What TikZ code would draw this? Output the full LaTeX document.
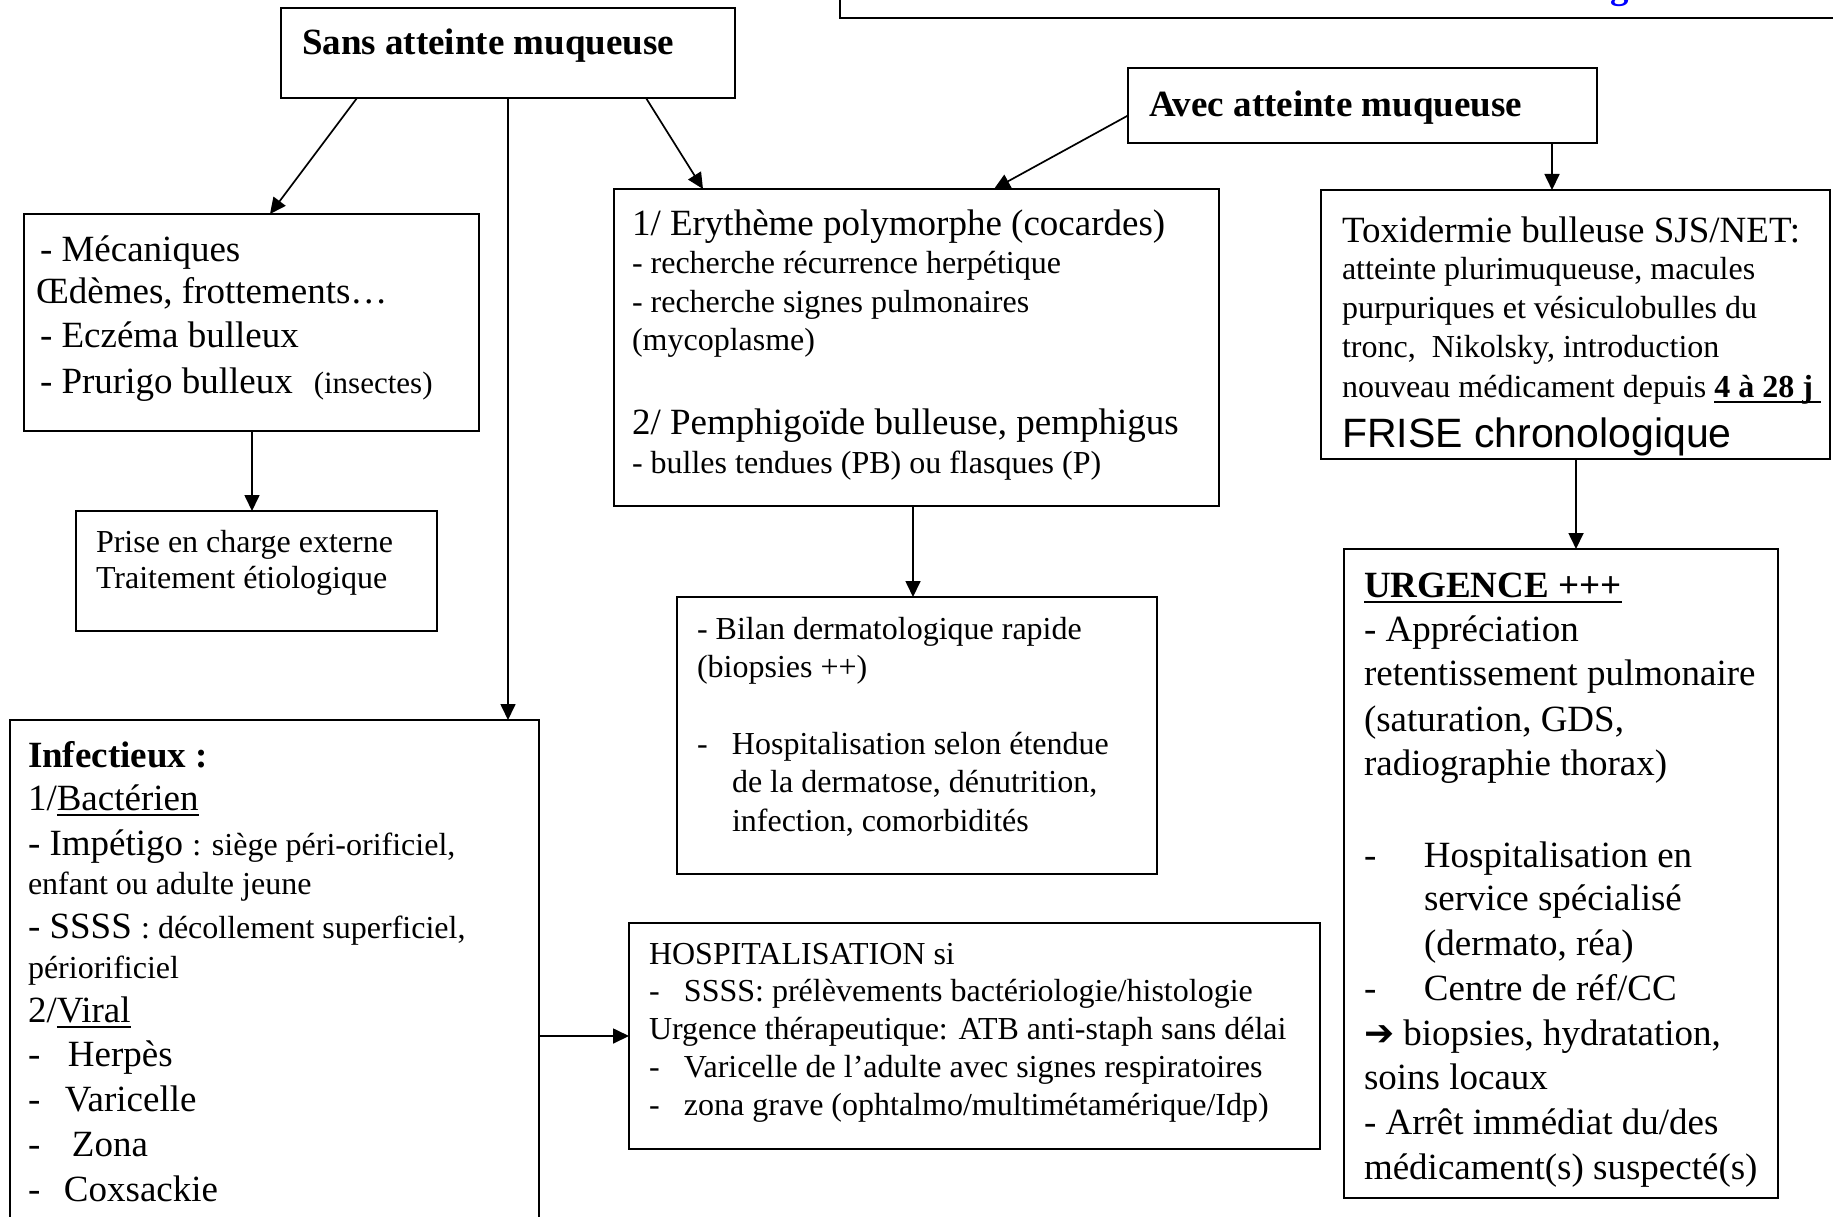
\documentclass[tikz,border=0pt]{standalone}
\usepackage{fontspec}
\setmainfont{Liberation Serif}
\newfontfamily\arialf{Liberation Sans}
\newfontfamily\dejavuf{DejaVu Sans}
\usetikzlibrary{arrows.meta}
\newcommand\fL{\fontsize{37}{44}\selectfont}
\newcommand\fM{\fontsize{32}{37}\selectfont}
\newcommand\fS{\fontsize{31}{36}\selectfont}
\newcommand\myul[1]{\begingroup\setbox0=\hbox{#1}\rlap{\copy0}\rule[-6pt]{\wd0}{2pt}\endgroup}
\begin{document}
\begin{tikzpicture}[x=1pt,y=-1pt,
  box/.style={draw=black, line width=1.8pt, rectangle, anchor=north west, inner sep=0pt, outer sep=0pt},
  tl/.style={anchor=base west, inner sep=0pt, outer sep=0pt},
  arr/.style={line width=1.7pt, -{Triangle[length=16pt,width=15pt]}},
  ln/.style={line width=1.7pt}]
\useasboundingbox (0,0) rectangle (1833,1217);
\clip (0,0) rectangle (1833,1217);

% ---------- boxes ----------
\node[box, line width=2.6pt, minimum width=1040pt, minimum height=70pt] (banner) at (840,-52) {};
\node[box, minimum width=454pt, minimum height=90pt]  (sans)  at (281,8) {};
\node[box, minimum width=469pt, minimum height=75pt]  (avec)  at (1128,68) {};
\node[box, minimum width=455pt, minimum height=217pt] (meca)  at (24,214) {};
\node[box, minimum width=361pt, minimum height=120pt] (prise) at (76,511) {};
\node[box, minimum width=605pt, minimum height=317pt] (ery)   at (614,189) {};
\node[box, minimum width=509pt, minimum height=269pt] (toxi)  at (1321,190) {};
\node[box, minimum width=480pt, minimum height=277pt] (bilan) at (677,597) {};
\node[box, minimum width=434pt, minimum height=649pt] (urg)   at (1344,549) {};
\node[box, minimum width=529pt, minimum height=560pt] (inf)   at (10,720) {};
\node[box, minimum width=691pt, minimum height=226pt] (hosp)  at (629,923) {};

% ---------- connectors ----------
\draw[arr] ([xshift=76pt]sans.south west) -- ([xshift=246pt]meca.north west);
\draw[arr] ([xshift=227pt]sans.south west) -- ([xshift=498pt]inf.north west);
\draw[arr] ([xshift=365pt]sans.south west) -- ([xshift=89pt]ery.north west);
\draw[arr] ([yshift=-10pt]avec.west) -- ([xshift=380pt]ery.north west);
\draw[arr] ([xshift=424pt]avec.south west) -- ([xshift=231pt]toxi.north west);
\draw[arr] ([xshift=228pt]meca.south west) -- ([xshift=176pt]prise.north west);
\draw[arr] ([xshift=299pt]ery.south west) -- ([xshift=236pt]bilan.north west);
\draw[arr] ([xshift=255pt]toxi.south west) -- ([xshift=232pt]urg.north west);
\draw[arr] ([yshift=-316pt]inf.north east) -- ([yshift=-113pt]hosp.north west);

% ---------- texts ----------
\node[anchor=base, inner sep=0pt, text={rgb,255:red,0;green,0;blue,255}] (gblue) at (1620,-1) {\fL\bfseries g};

\node[tl] (ts) at (302,55) {\fL\bfseries Sans atteinte muqueuse};
\node[tl] (ta) at (1149,117) {\fL\bfseries Avec atteinte muqueuse};

\node[tl] (m1) at (40,261) {\fL - Mécaniques};
\node[tl] (m2) at (36,303) {\fL Œdèmes, frottements…};
\node[tl] (m3) at (40,347) {\fL - Eczéma bulleux};
\node[tl] (m4) at (40,393) {\fL - Prurigo bulleux\hspace{21pt}{\fS(insectes)}};

\node[tl] (p1) at (96,552) {\fM Prise en charge externe};
\node[tl] (p2) at (96,588) {\fM Traitement étiologique};

\node[tl] (e1) at (632,236) {\fL 1/ Erythème polymorphe (cocardes)};
\node[tl] (e2) at (632,273) {\fM - recherche récurrence herpétique};
\node[tl] (e3) at (632,312) {\fM - recherche signes pulmonaires};
\node[tl] (e4) at (632,350) {\fM (mycoplasme)};
\node[tl] (e5) at (632,434) {\fL 2/ Pemphigoïde bulleuse, pemphigus};
\node[tl] (e6) at (632,473) {\fM - bulles tendues (PB) ou flasques (P)};

\node[tl] (x1) at (1342,242) {\fL Toxidermie bulleuse SJS/NET:};
\node[tl] (x2) at (1342,279) {\fM atteinte plurimuqueuse, macules};
\node[tl] (x3) at (1342,318) {\fM purpuriques et vésiculobulles du};
\node[tl] (x4) at (1342,357) {\fM tronc,\ \ Nikolsky, introduction};
\node[tl] (x5) at (1342,397) {\fM nouveau médicament depuis \myul{\textbf{4 à 28 j\ }}};
\node[tl] (x6) at (1342,447) {\arialf\fontsize{41}{47}\selectfont FRISE chronologique};

\node[tl] (b1) at (697,639) {\fM - Bilan dermatologique rapide};
\node[tl] (b2) at (697,677) {\fM (biopsies ++)};
\node[tl] (b3) at (697,754) {\fM\makebox[35pt][l]{-}Hospitalisation selon étendue};
\node[tl] (b4) at (732,792) {\fM de la dermatose, dénutrition,};
\node[tl] (b5) at (732,831) {\fM infection, comorbidités};

\node[tl] (u1) at (1364,597) {\fL\myul{\textbf{URGENCE +++}}};
\node[tl] (u2) at (1364,641) {\fL - Appréciation};
\node[tl] (u3) at (1364,685) {\fL retentissement pulmonaire};
\node[tl] (u4) at (1364,731) {\fL (saturation, GDS,};
\node[tl] (u5) at (1364,775) {\fL radiographie thorax)};
\node[tl] (u6) at (1364,867) {\fL\makebox[60pt][l]{-}Hospitalisation en};
\node[tl] (u7) at (1424,910) {\fL service spécialisé};
\node[tl] (u8) at (1424,955) {\fL (dermato, réa)};
\node[tl] (u9) at (1364,1000) {\fL\makebox[60pt][l]{-}Centre de réf/CC};
\node[tl] (u10) at (1364,1045) {\fL{\dejavuf\bfseries\fontsize{36}{40}\selectfont ➔} biopsies, hydratation,};
\node[tl] (u11) at (1364,1089) {\fL soins locaux};
\node[tl] (u12) at (1364,1134) {\fL - Arrêt immédiat du/des};
\node[tl] (u13) at (1364,1179) {\fL médicament(s) suspecté(s)};

\node[tl] (i1) at (28,767) {\fL\bfseries Infectieux :};
\node[tl] (i2) at (28,810) {\fL 1/\myul{Bactérien}};
\node[tl] (i3) at (28,855) {\fL - Impétigo {\fM : siège péri-orificiel,}};
\node[tl] (i4) at (28,894) {\fM enfant ou adulte jeune};
\node[tl] (i5) at (28,938) {\fL - SSSS {\fM : décollement superficiel,}};
\node[tl] (i6) at (28,978) {\fM périorificiel};
\node[tl] (i7) at (28,1022) {\fL 2/\myul{Viral}};
\node[tl] (i8) at (28,1066) {\fL\makebox[40pt][l]{-}Herpès};
\node[tl] (i9) at (28,1111) {\fL\makebox[37pt][l]{-}Varicelle};
\node[tl] (i10) at (28,1156) {\fL\makebox[44pt][l]{-}Zona};
\node[tl] (i11) at (28,1201) {\fL\makebox[36pt][l]{-}Coxsackie};

\node[tl] (h1) at (649,964) {\fM HOSPITALISATION si};
\node[tl] (h2) at (649,1001) {\fM\makebox[35pt][l]{-}SSSS: prélèvements bactériologie/histologie};
\node[tl] (h3) at (649,1039) {\fM Urgence thérapeutique: ATB anti-staph sans délai};
\node[tl] (h4) at (649,1077) {\fM\makebox[35pt][l]{-}Varicelle de l’adulte avec signes respiratoires};
\node[tl] (h5) at (649,1115) {\fM\makebox[35pt][l]{-}zona grave (ophtalmo/multimétamérique/Idp)};
\end{tikzpicture}
\end{document}
